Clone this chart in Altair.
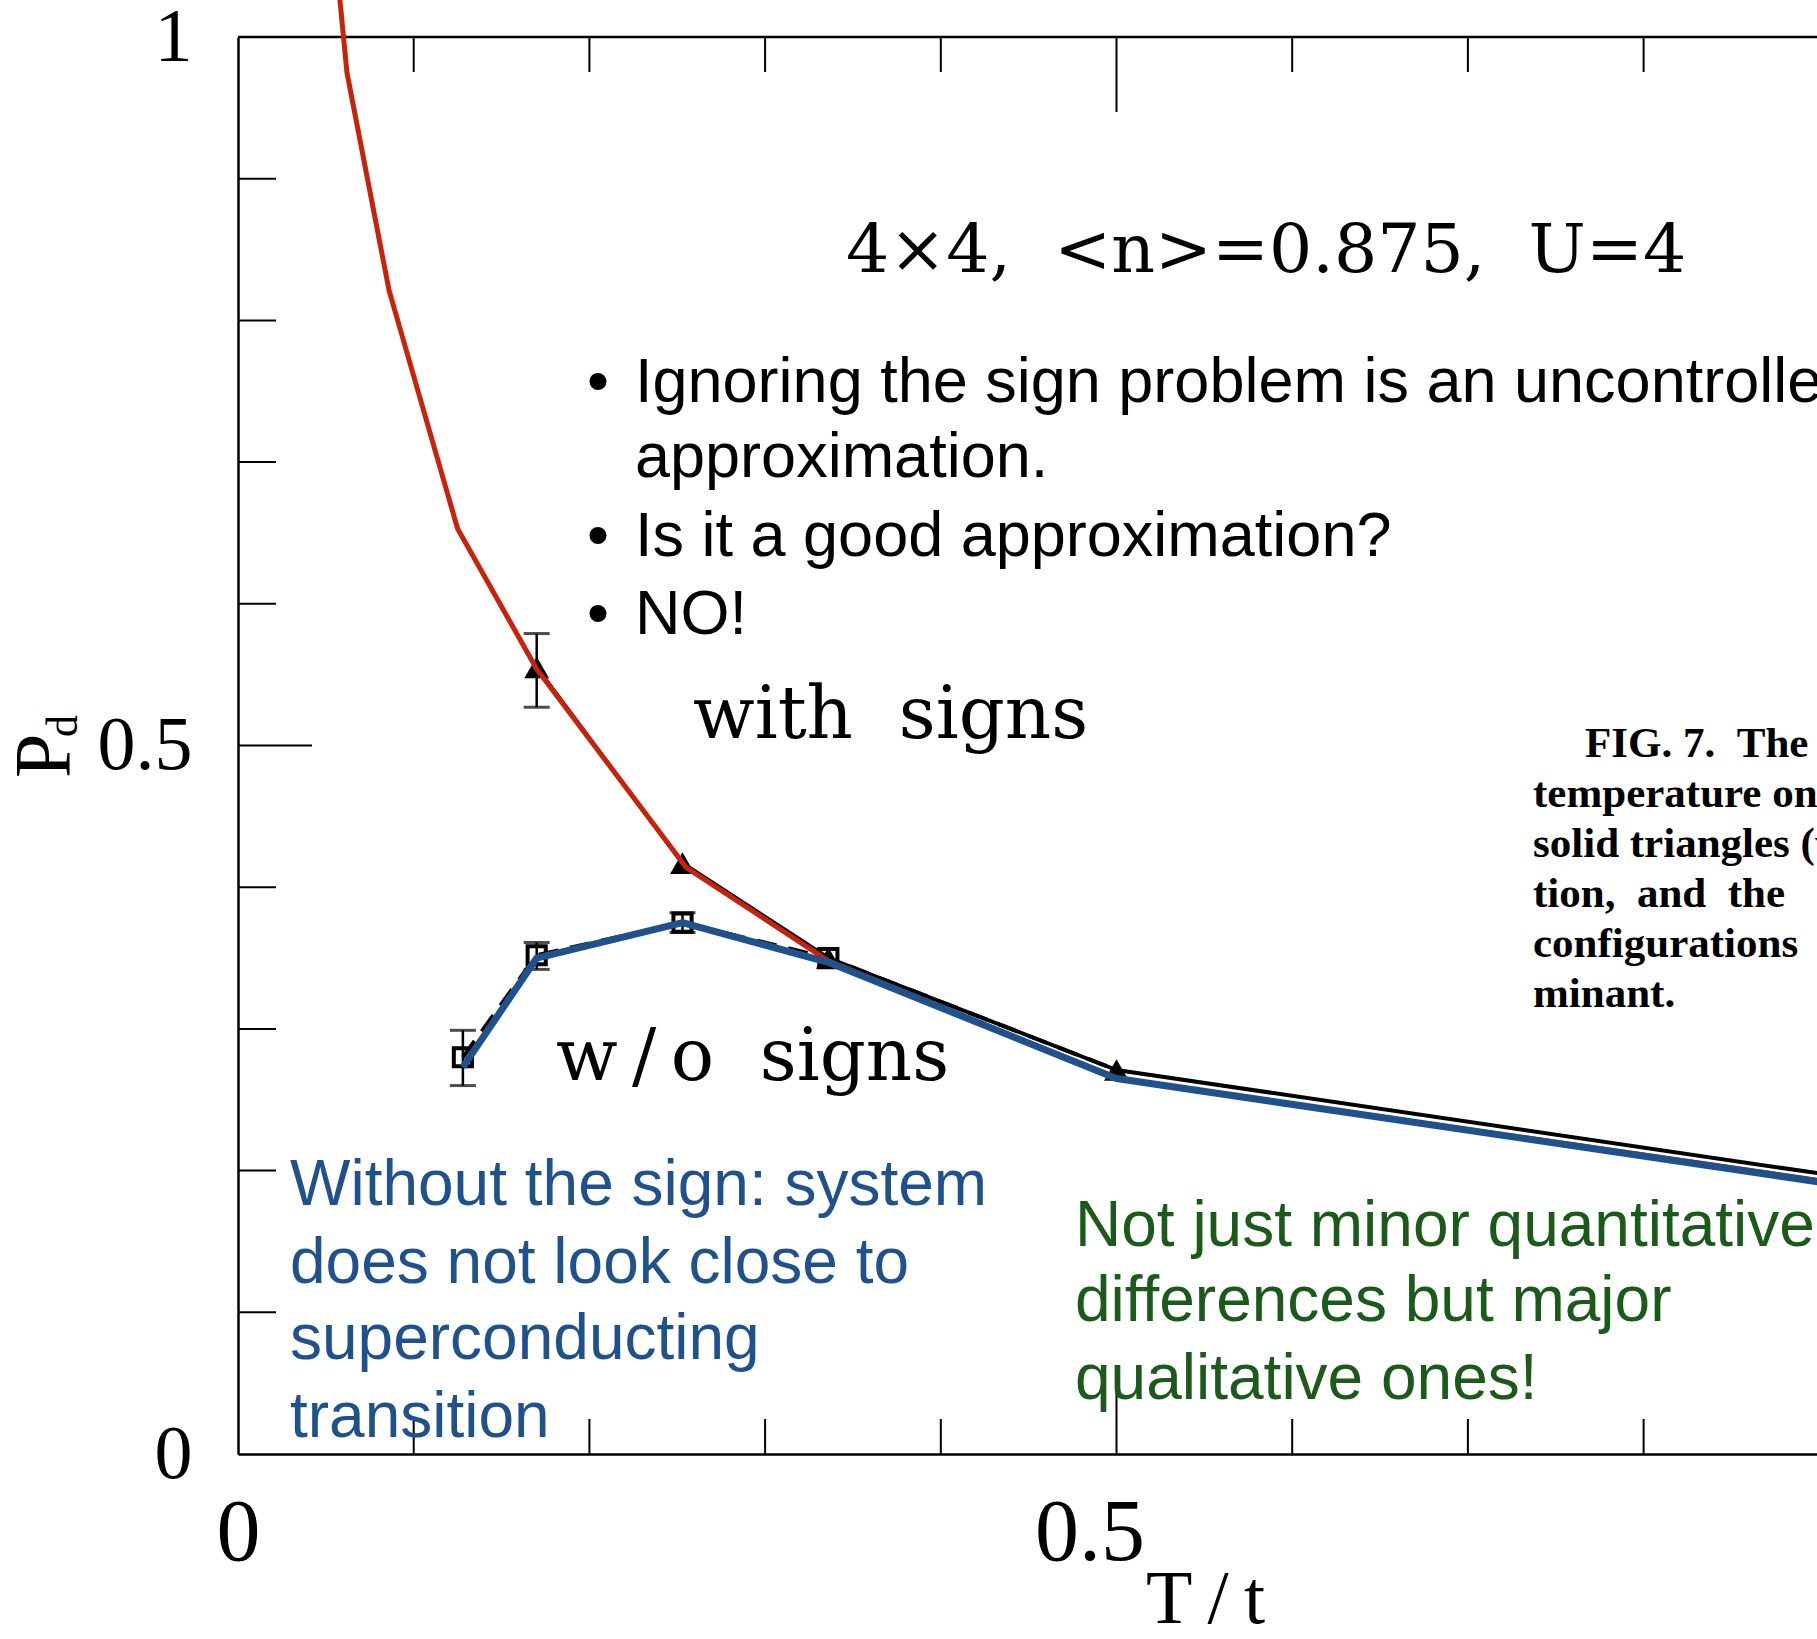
import altair as alt
import pandas as pd

# ---------------- data ----------------
with_T = [0.170, 0.253, 0.336, 0.500, 0.900]
with_P = [0.555, 0.417, 0.350, 0.271, 0.198]

wo_T = [0.128, 0.170, 0.253, 0.336, 0.500]
wo_P = [0.280, 0.352, 0.375, 0.350, 0.271]

with_err_T = [0.170]
with_err_lo = [0.527]
with_err_hi = [0.579]

wo_err_T = [0.128, 0.170, 0.253]
wo_err_lo = [0.260, 0.342, 0.368]
wo_err_hi = [0.299, 0.361, 0.382]

red_T = [0.0577, 0.062, 0.086, 0.125, 0.170, 0.255, 0.336, 0.500, 0.900]
red_P = [1.030, 0.975, 0.821, 0.653, 0.554, 0.414, 0.348, 0.265, 0.193]

blue_T = [0.128, 0.170, 0.253, 0.336, 0.500, 0.900]
blue_P = [0.273, 0.350, 0.375, 0.347, 0.265, 0.192]

x_label_values = [0, 0.5]
y_label_values = [0, 0.5, 1]
x_minor_ticks = [0.1, 0.2, 0.3, 0.4, 0.6, 0.7, 0.8]
x_major_ticks = [0.5]
y_minor_ticks = [0.1, 0.2, 0.3, 0.4, 0.6, 0.7, 0.8, 0.9]
y_major_ticks = [0.5]

title_text = "4\u00d74,\u00a0\u00a0<n>=0.875,\u00a0\u00a0U=4"
with_label = "with\u00a0\u00a0signs"
wo_label = "w\u2009/\u2009o\u00a0\u00a0signs"
bullet_lines = ["Ignoring the sign problem is an uncontrolled",
                "approximation.",
                "Is it a good approximation?",
                "NO!"]
blue_lines = ["Without the sign: system", "does not look close to",
              "superconducting", "transition"]
green_lines = ["Not just minor quantitative", "differences but major",
               "qualitative ones!"]
caption_lines = ["FIG.\u00a07.\u00a0\u00a0The", "temperature on the",
                 "solid triangles (with", "tion,\u00a0\u00a0and\u00a0\u00a0the",
                 "configurations", "minant."]

# ---------------- layout ----------------
W, H = 1579, 1417
PX_PER_UNIT_X = 1757
X_MAX = W / PX_PER_UNIT_X

xs = alt.Scale(domain=[0, X_MAX], nice=False, zero=False)
ys = alt.Scale(domain=[0, 1], nice=False, zero=False)

SERIF = "Liberation Serif"
WIDE_SERIF = "DejaVu Serif"
SANS = "Liberation Sans"
RED = "#c8220a"
BLUE = "#1f528c"
GREEN = "#1b5a1b"

x_axis = alt.Axis(
    values=x_label_values, format="~g", ticks=False, grid=False,
    domain=True, domainColor="black", domainWidth=2.5,
    labelFont=SERIF, labelFontSize=88, labelColor="black",
    labelBaseline="alphabetic", labelPadding=105, labelFlush=False,
    labelOffset={"condition": {"test": "datum.value == 0.5", "value": -27}, "value": 0},
    title="T\u2009/\u2009t", titleFont=SERIF, titleFontSize=76,
    titleFontWeight="normal", titleColor="black",
    titleX=967, titleY=168, titleBaseline="alphabetic", titleAlign="center",
)
y_axis = alt.Axis(
    values=y_label_values, format="~g", ticks=False, grid=False,
    domain=True, domainColor="black", domainWidth=2.5,
    labelFont=SERIF, labelFontSize=76, labelColor="black",
    labelAlign="right", labelBaseline="middle", labelPadding=46,
    labelFlush=False, title=None,
)


def X(field):
    return alt.X(field, scale=xs, axis=x_axis)


def Y(field):
    return alt.Y(field, scale=ys, axis=y_axis)


def xy_df(T, P):
    return pd.DataFrame({"T": T, "P": P, "i": list(range(len(T)))})


def line(T, P, color, width, dash=None):
    kw = dict(color=color, strokeWidth=width, strokeJoin="round")
    if dash:
        kw["strokeDash"] = dash
    return alt.Chart(xy_df(T, P)).mark_line(**kw).encode(
        x=X("T:Q"), y=Y("P:Q"), order="i:Q",
    )


def txt(s, px, py, font, size, color="black", weight="normal", align="left",
        baseline="alphabetic", angle=0):
    return alt.Chart(pd.DataFrame({"t": [s]})).mark_text(
        font=font, fontSize=size, color=color, fontWeight=weight,
        align=align, baseline=baseline, angle=angle,
    ).encode(x=alt.value(px), y=alt.value(py), text="t:N")


layers = []

# top frame line
layers.append(
    alt.Chart(pd.DataFrame({"v": [1]})).mark_rule(color="black", strokeWidth=2.5).encode(
        y=Y("v:Q"), x=alt.value(0), x2=alt.value(W)
    )
)


# inward ticks
def xticks(vals, length, top):
    y0 = 0 if top else H
    y1 = length if top else H - length
    return alt.Chart(pd.DataFrame({"v": vals})).mark_rule(color="black", strokeWidth=2).encode(
        x=X("v:Q"), y=alt.value(y0), y2=alt.value(y1)
    )


def yticks(vals, length):
    return alt.Chart(pd.DataFrame({"v": vals})).mark_rule(color="black", strokeWidth=2).encode(
        y=Y("v:Q"), x=alt.value(0), x2=alt.value(length)
    )


layers += [
    xticks(x_minor_ticks, 35, True), xticks(x_major_ticks, 75, True),
    xticks(x_minor_ticks, 35, False), xticks(x_major_ticks, 70, False),
    yticks(y_minor_ticks, 38), yticks(y_major_ticks, 74),
]

# original black curves
layers.append(line(with_T, with_P, "black", 4))
layers.append(line(wo_T, wo_P, "black", 4, dash=[20, 12]))


# error bars
def errbars(T, lo, hi):
    df = pd.DataFrame({"T": T, "lo": lo, "hi": hi})
    base = alt.Chart(df)
    bar = base.mark_rule(color="black", strokeWidth=2.5).encode(
        x=X("T:Q"), y=Y("lo:Q"), y2="hi:Q")
    cap_lo = base.mark_tick(color="black", orient="horizontal", size=26, thickness=3).encode(
        x=X("T:Q"), y=Y("lo:Q"))
    cap_hi = base.mark_tick(color="black", orient="horizontal", size=26, thickness=3).encode(
        x=X("T:Q"), y=Y("hi:Q"))
    return [bar, cap_lo, cap_hi]


layers += errbars(with_err_T, with_err_lo, with_err_hi)
layers += errbars(wo_err_T, wo_err_lo, wo_err_hi)

# markers
layers.append(
    alt.Chart(xy_df(with_T[:4], with_P[:4])).mark_point(
        shape="triangle-up", filled=True, color="black", size=620, opacity=1).encode(
        x=X("T:Q"), y=Y("P:Q"))
)
layers.append(
    alt.Chart(xy_df(wo_T[:4], wo_P[:4])).mark_point(
        shape="square", filled=False, color="black", size=330, strokeWidth=4, opacity=1).encode(
        x=X("T:Q"), y=Y("P:Q"))
)

# coloured overlays
layers.append(line(red_T, red_P, RED, 5))
layers.append(line(blue_T, blue_P, BLUE, 7))

# y-axis title P_d (rotated)
layers.append(txt("P", -168, 741, SERIF, 80, angle=270))
layers.append(txt("d", -161, 700, SERIF, 44, angle=270))

# figure texts
layers.append(txt(title_text, 608, 235, WIDE_SERIF, 68))
layers.append(txt(with_label, 455, 701, WIDE_SERIF, 72))
layers.append(txt(wo_label, 318, 1043, WIDE_SERIF, 72))

bullet_base = [365, 440, 519, 597]
for i, (s, yb) in enumerate(zip(bullet_lines, bullet_base)):
    if i != 1:
        layers.append(txt("\u2022", 360, yb, SANS, 63, align="center"))
    layers.append(txt(s, 397, yb, SANS, 63))

for s, yb in zip(blue_lines, [1168, 1246, 1322, 1400]):
    layers.append(txt(s, 52, yb, SANS, 64, color=BLUE))

for s, yb in zip(green_lines, [1209, 1284, 1362]):
    layers.append(txt(s, 837, yb, SANS, 64, color=GREEN))

for i, (s, yb) in enumerate(zip(caption_lines, [720, 770, 820, 870, 920, 970])):
    layers.append(txt(s, 1347 if i == 0 else 1295, yb, SERIF, 43, weight="bold"))

chart = alt.layer(*layers).properties(
    width=W, height=H,
    padding={"left": 238, "top": 37, "right": 0, "bottom": 185},
    autosize=alt.AutoSizeParams(type="none"),
    background="white",
).configure_view(stroke=None)

chart.save("out.html", embed_options={"renderer": "svg", "actions": False})
